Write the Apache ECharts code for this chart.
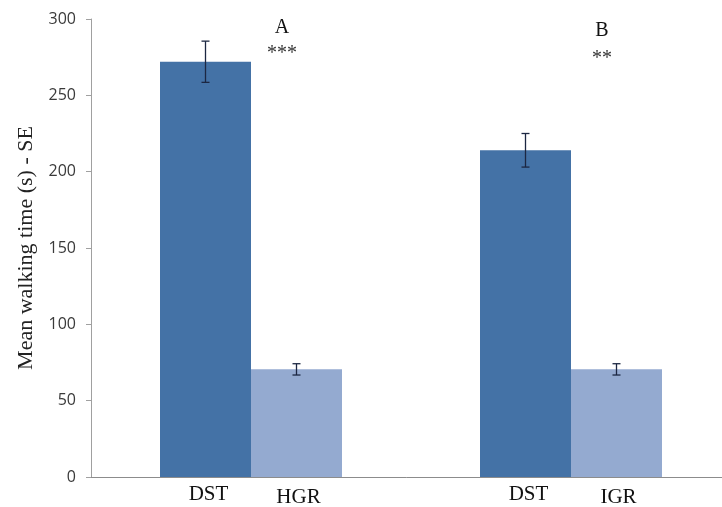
<!DOCTYPE html>
<html>
<head>
<meta charset="utf-8">
<script src="https://cdn.jsdelivr.net/npm/echarts@6/dist/echarts.min.js"></script>
<style>html,body{margin:0;padding:0;background:#fff;}#c{width:722px;height:507px;}</style>
</head>
<body>
<div id="c"></div>
<script>
var groups = ['A', 'B'];
var groupStars = ['***', '**'];
var dstLabels = ['DST', 'DST'];
var grLabels = ['HGR', 'IGR'];
var dstValues = [272, 214];
var dstErrors = [13.5, 11];
var grValues = [70.5, 70.5];
var grErrors = [3.7, 3.7];
var yTicks = [0, 50, 100, 150, 200, 250, 300];

var chart = echarts.init(document.getElementById('c'));
var barW = 91;

function errorSeries(values, errors, offset) {
  return {
    type: 'custom',
    z: 10,
    data: values.map(function (v, i) { return [i, v - errors[i], v + errors[i]]; }),
    renderItem: function (params, api) {
      var lo = api.coord([api.value(0), api.value(1)]);
      var hi = api.coord([api.value(0), api.value(2)]);
      var x = lo[0] + offset;
      var cap = 4;
      var st = { stroke: '#1c2742', lineWidth: 1.3 };
      return {
        type: 'group',
        children: [
          { type: 'line', shape: { x1: x, y1: lo[1], x2: x, y2: hi[1] }, style: st },
          { type: 'line', shape: { x1: x - cap, y1: lo[1], x2: x + cap, y2: lo[1] }, style: st },
          { type: 'line', shape: { x1: x - cap, y1: hi[1], x2: x + cap, y2: hi[1] }, style: st }
        ]
      };
    }
  };
}

chart.setOption({
  animation: false,
  grid: { left: 91, width: 640, top: 19, bottom: 30, outerBoundsMode: 'none', containLabel: false },
  xAxis: {
    type: 'category',
    data: groups,
    axisLine: { lineStyle: { color: '#8c8c8c', width: 1 } },
    axisTick: { show: false },
    axisLabel: { show: false }
  },
  yAxis: {
    type: 'value',
    min: 0, max: 300, interval: 50,
    name: 'Mean walking time (s) - SE',
    nameLocation: 'middle',
    nameGap: 52,
    nameTextStyle: { fontFamily: 'Liberation Serif', fontSize: 22, color: '#222' },
    axisLine: { show: true, lineStyle: { color: '#a0a0a0' } },
    axisTick: { show: true, length: 5, lineStyle: { color: '#a0a0a0' } },
    splitLine: { show: false },
    axisLabel: {
      fontFamily: 'Open Sans', fontSize: 16, color: '#3a3a3a', margin: 15,
      formatter: function (v) { return yTicks.indexOf(v) >= 0 ? String(v) : ''; }
    }
  },
  series: [
    {
      type: 'bar', data: dstValues, barWidth: barW, barGap: '0%',
      itemStyle: { color: '#4472a6' },
      label: {
        show: true, position: 'bottom', distance: 7, offset: [3, 0],
        fontFamily: 'Liberation Serif', fontSize: 21, color: '#111',
        formatter: function (p) { return dstLabels[p.dataIndex]; }
      }
    },
    {
      type: 'bar', data: grValues, barWidth: barW, barGap: '0%',
      itemStyle: { color: '#94aad0' },
      label: {
        show: true, position: 'bottom', distance: 10, offset: [2, 0],
        fontFamily: 'Liberation Serif', fontSize: 21, color: '#111',
        formatter: function (p) { return grLabels[p.dataIndex]; }
      }
    },
    errorSeries(dstValues, dstErrors, -barW / 2),
    errorSeries(grValues, grErrors, barW / 2)
  ]
});

var aVals = [294, 292.5];
var sVals = [277, 274];
var g = [];
groups.forEach(function (name, i) {
  var px = chart.convertToPixel({ xAxisIndex: 0 }, i);
  var yA = chart.convertToPixel({ yAxisIndex: 0 }, aVals[i]);
  var yS = chart.convertToPixel({ yAxisIndex: 0 }, sVals[i]);
  g.push({ type: 'text', x: px + 31, y: yA, style: { text: name, fontFamily: 'Liberation Serif', fontSize: 20, fill: '#111', align: 'center', verticalAlign: 'middle' } });
  g.push({ type: 'text', x: px + 31, y: yS, style: { text: groupStars[i], fontFamily: 'Liberation Serif', fontSize: 20, fill: '#333', align: 'center', verticalAlign: 'middle' } });
});
chart.setOption({ graphic: g });
</script>
</body>
</html>
